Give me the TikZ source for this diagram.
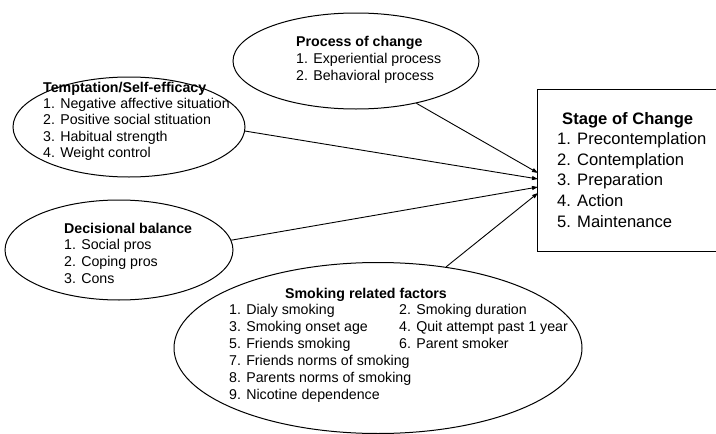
\documentclass[tikz,border=0pt]{standalone}
\usepackage{fontspec}
\setmainfont{Liberation Sans}
\usetikzlibrary{shapes.geometric,arrows.meta}
\begin{document}
\begin{tikzpicture}[x=1pt,y=-1pt,
  ell/.style={draw, ellipse, line width=1pt, inner sep=0pt},
  txt/.style={anchor=base west, inner sep=0pt, font=\fontsize{14.2}{17}\selectfont},
  ttl/.style={anchor=base west, inner sep=0pt, font=\fontsize{14.2}{17}\selectfont\bfseries},
  btxt/.style={anchor=base west, inner sep=0pt, font=\fontsize{16.6}{20}\selectfont},
  bttl/.style={anchor=base west, inner sep=0pt, font=\fontsize{16.6}{20}\selectfont\bfseries},
  arr/.style={-{Triangle[length=6pt,width=4pt]}, line width=0.9pt}]
\useasboundingbox (0,0) rectangle (716,434);

% shapes
\node[ell, minimum width=232pt, minimum height=100pt] (temp) at (129,127) {};
\node[ell, minimum width=246pt, minimum height=96pt] (proc) at (356,61) {};
\node[ell, minimum width=228pt, minimum height=100pt] (dec) at (119,250) {};
\node[ell, minimum width=408pt, minimum height=171pt] (smk) at (378,348) {};
\node[minimum width=182pt, minimum height=161pt, inner sep=0pt] (box) at (629,170.5) {};
\draw[line width=1pt] (box.north east) -- (box.north west) -- (box.south west) -- (box.south east);

% arrow targets on the box
\coordinate (e1) at (538,173);
\coordinate (e2) at (538,179);
\coordinate (e3) at (538,187);
\coordinate (e4) at (538,193);

\draw[arr] (proc.-35) -- (e1);
\draw[arr] (temp.-2) -- (e2);
\draw[arr] (dec.5) -- (e3);
\draw[arr] (smk.50) -- (e4);

% Temptation
\node[ttl] (tt) at (43,92) {Temptation/Self-efficacy};
\foreach \t [count=\i] in {{1. Negative affective situation},{2. Positive social stituation},{3. Habitual strength},{4. Weight control}}
  \node[txt] (tl\i) at (43,92+16.4*\i) {\t};

% Process
\node[ttl] (pt) at (296,46) {Process of change};
\foreach \t [count=\i] in {{1. Experiential process},{2. Behavioral process}}
  \node[txt] (pl\i) at (296,46+17*\i) {\t};

% Decisional
\node[ttl] (dt) at (64,233) {Decisional balance};
\foreach \t [count=\i] in {{1. Social pros},{2. Coping pros},{3. Cons}}
  \node[txt] (dl\i) at (64,233+16.7*\i) {\t};

% Smoking
\node[ttl, anchor=base] (st) at (366,298) {Smoking related factors};
\foreach \t [count=\i] in {{1. Dialy smoking},{3. Smoking onset age},{5. Friends smoking},{7. Friends norms of smoking},{8. Parents norms of smoking},{9. Nicotine dependence}}
  \node[txt] (sa\i) at (229,298+16.9*\i) {\t};
\foreach \t [count=\i] in {{2. Smoking duration},{4. Quit attempt past 1 year},{6. Parent smoker}}
  \node[txt] (sb\i) at (399,298+16.9*\i) {\t};

% Box text
\node[bttl] (bt) at (562,124) {Stage of Change};
\foreach \t [count=\i] in {{1. Precontemplation},{2. Contemplation},{3. Preparation},{4. Action},{5. Maintenance}}
  \node[btxt] (bl\i) at (557,124+20.6*\i) {\t};
\end{tikzpicture}
\end{document}
